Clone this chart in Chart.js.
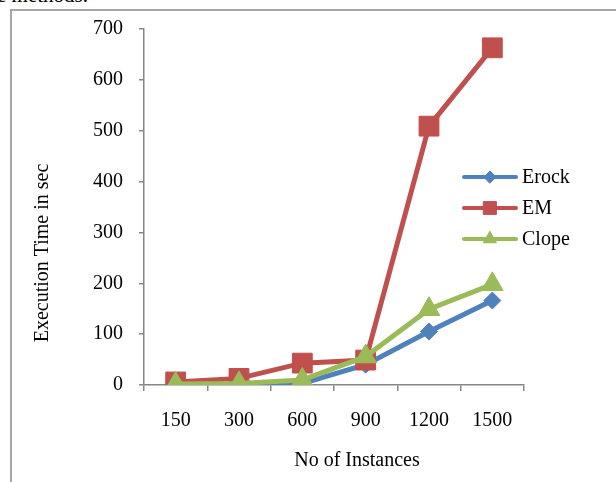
<!DOCTYPE html>
<html>
<head>
<meta charset="utf-8">
<script src="https://cdn.jsdelivr.net/npm/chart.js@4/dist/chart.umd.min.js"></script>
<style>
  html, body { margin: 0; padding: 0; background: #fff; overflow: hidden; }
  #wrap { position: relative; width: 616px; height: 482px; overflow: hidden; }
  #frame { position: absolute; left: 10px; top: 9px; width: 700px; height: 600px; border: 2px solid #a6a6a6; box-sizing: border-box; }
  #prev { position: absolute; left: -3px; top: -20px; font: 21px 'Liberation Serif', 'Times New Roman', serif; line-height: 30px; color: #000; white-space: nowrap; }
  canvas { position: absolute; left: 0; top: 0; }
</style>
</head>
<body>
<div id="wrap">
  <div id="prev">e methods.</div>
  <div id="frame"></div>
  <canvas id="c" width="616" height="482"></canvas>
</div>
<script>
const categories = ['150', '300', '600', '900', '1200', '1500'];
const erock = [0, 0, 3, 40, 105, 166];
const em = [6, 13, 43, 49, 509, 663];
const clope = [2, 3, 10, 56, 149, 198];
const seriesNames = ['Erock', 'EM', 'Clope'];
const yTicks = [0, 100, 200, 300, 400, 500, 600, 700];
const xTitle = 'No of Instances';
const yTitle = 'Execution Time in sec';

const FONT = "'Liberation Serif', 'Times New Roman', serif";
const BLUE = '#4F81BD', RED = '#C0504D', GREEN = '#9BBB59', AXIS = '#878787';

Chart.defaults.font.family = FONT;
Chart.defaults.font.size = 20;
Chart.defaults.color = '#000';

const legendPlugin = {
  id: 'customLegendTitles',
  afterDraw(chart) {
    const ctx = chart.ctx;
    ctx.save();
    ctx.fillStyle = '#000';
    ctx.font = '20px ' + FONT;
    ctx.textAlign = 'center';
    ctx.textBaseline = 'middle';
    ctx.fillText(xTitle, 357, 461);
    ctx.save();
    ctx.translate(43, 253);
    ctx.rotate(-Math.PI / 2);
    ctx.fillText(yTitle, 0, 0);
    ctx.restore();
    const ys = [177, 208, 239];
    const legendRadius = [6, 9, 7.5];
    [0, 1, 2].forEach((di, i) => {
      const ds = chart.data.datasets[di];
      const y = ys[i];
      ctx.strokeStyle = ds.borderColor;
      ctx.lineWidth = 4;
      ctx.lineCap = 'round';
      ctx.beginPath();
      ctx.moveTo(464, y);
      ctx.lineTo(516, y);
      ctx.stroke();
      ctx.fillStyle = ds.borderColor;
      ctx.lineWidth = 1;
      Chart.helpers.drawPoint(ctx, { pointStyle: ds.pointStyle, radius: legendRadius[i], borderWidth: 1, rotation: 0 }, 490, y);
      ctx.fill();
      ctx.fillStyle = '#000';
      ctx.textAlign = 'left';
      ctx.textBaseline = 'middle';
      ctx.fillText(ds.label, 522, y + 1);
    });
    ctx.restore();
  }
};

new Chart(document.getElementById('c'), {
  type: 'line',
  data: {
    labels: categories,
    datasets: [
      { label: seriesNames[0], data: erock, borderColor: BLUE, backgroundColor: BLUE, borderWidth: 5,
        pointStyle: 'rectRot', pointRadius: 8.5, pointBorderWidth: 1, pointBackgroundColor: BLUE, order: 2 },
      { label: seriesNames[1], data: em, borderColor: RED, backgroundColor: RED, borderWidth: 5,
        pointStyle: 'rect', pointRadius: 14, pointBorderWidth: 1, pointBackgroundColor: RED, order: 1 },
      { label: seriesNames[2], data: clope, borderColor: GREEN, backgroundColor: GREEN, borderWidth: 5,
        pointStyle: 'triangle', pointRadius: 12.5, pointBorderWidth: 1, pointBackgroundColor: GREEN, order: 0 }
    ]
  },
  options: {
    responsive: false,
    animation: false,
    devicePixelRatio: 1,
    layout: { padding: { left: 0, top: 29, right: 92, bottom: 0 } },
    plugins: { legend: { display: false }, tooltip: { enabled: false } },
    elements: { line: { tension: 0 } },
    scales: {
      x: {
        type: 'category',
        offset: true,
        grid: { offset: true, drawOnChartArea: false, tickLength: 6, color: AXIS, lineWidth: 1.5 },
        border: { color: AXIS, width: 1.5 },
        ticks: { padding: 18, font: { size: 20 }, color: '#000', maxRotation: 0 },
        afterFit(s) { s.height = 97; }
      },
      y: {
        min: 0, max: 700,
        afterBuildTicks(s) { s.ticks = yTicks.map(v => ({ value: v })); },
        grid: { drawOnChartArea: false, tickLength: 5, color: AXIS, lineWidth: 1.5 },
        border: { color: AXIS, width: 1.5 },
        ticks: { padding: 16, font: { size: 20 }, color: '#000' },
        afterFit(s) { s.width = 144; }
      }
    }
  },
  plugins: [legendPlugin]
});
</script>
</body>
</html>
